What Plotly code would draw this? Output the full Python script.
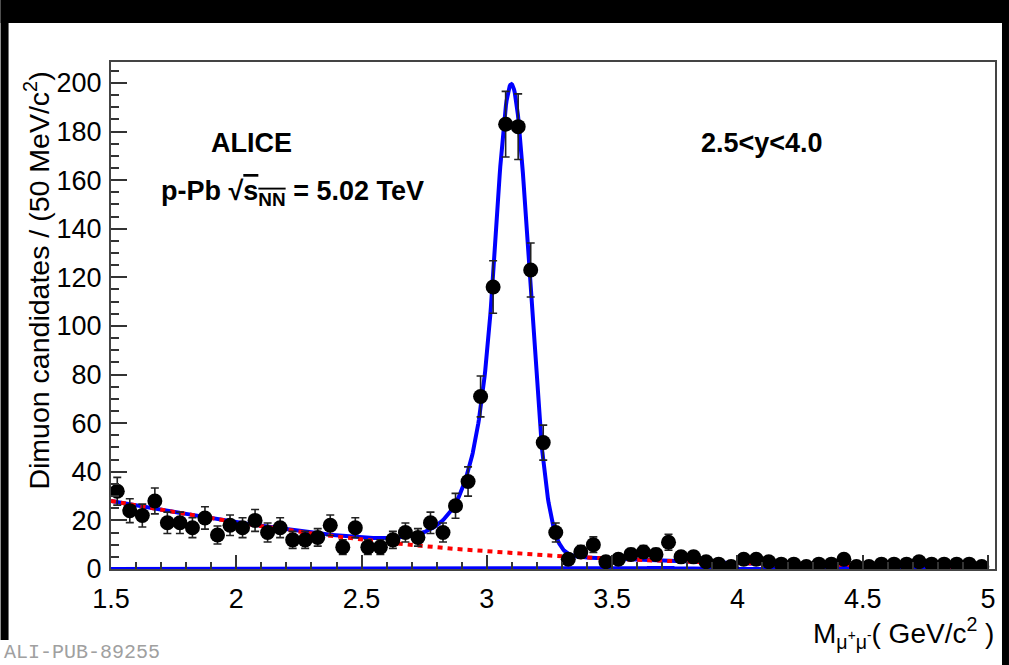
import numpy as np
import plotly.graph_objects as go

# ---- dimuon invariant-mass spectrum, 50 MeV/c^2 bins ----
mass_bins = [1.525, 1.575, 1.625, 1.675, 1.725, 1.775, 1.825, 1.875, 1.925, 1.975,
             2.025, 2.075, 2.125, 2.175, 2.225, 2.275, 2.325, 2.375, 2.425, 2.475,
             2.525, 2.575, 2.625, 2.675, 2.725, 2.775, 2.825, 2.875, 2.925, 2.975,
             3.025, 3.075, 3.125, 3.175, 3.225, 3.275, 3.325, 3.375, 3.425, 3.475,
             3.525, 3.575, 3.625, 3.675, 3.725, 3.775, 3.825, 3.875, 3.925, 3.975,
             4.025, 4.075, 4.125, 4.175, 4.225, 4.275, 4.325, 4.375, 4.425, 4.475,
             4.525, 4.575, 4.625, 4.675, 4.725, 4.775, 4.825, 4.875, 4.925, 4.975]
counts = [32, 24, 22, 28, 19, 19, 17, 21, 14, 18,
          17, 20, 15, 17, 12, 12, 13, 18, 9, 17,
          9, 9, 12, 15, 13, 19, 15, 26, 36, 71,
          116, 183, 182, 123, 52, 15, 4, 7, 10, 3,
          4, 6, 7, 6, 11, 5, 5, 3, 2, 1,
          4, 4, 3, 2, 2, 1, 2, 2, 4, 1,
          1, 2, 2, 2, 3, 2, 2, 2, 2, 1]
count_errors = [5.7, 4.9, 4.7, 5.3, 4.4, 4.4, 4.1, 4.6, 3.7, 4.2,
                4.1, 4.5, 3.9, 4.1, 3.5, 3.5, 3.6, 4.2, 3.0, 4.1,
                3.0, 3.0, 3.5, 3.9, 3.6, 4.4, 3.9, 5.1, 6.0, 8.4,
                10.8, 13.5, 13.5, 11.1, 7.2, 3.9, 2.0, 2.6, 3.2, 1.7,
                2.0, 2.4, 2.6, 2.4, 3.3, 2.2, 2.2, 1.7, 1.4, 1.0,
                2.0, 2.0, 1.7, 1.4, 1.4, 1.0, 1.4, 1.4, 2.0, 1.0,
                1.0, 1.4, 1.4, 1.4, 1.7, 1.4, 1.4, 1.4, 1.4, 1.0]

x_ticks = [1.5, 2, 2.5, 3, 3.5, 4, 4.5, 5]
x_tick_labels = ["1.5", "2", "2.5", "3", "3.5", "4", "4.5", "5"]
y_ticks = [0, 20, 40, 60, 80, 100, 120, 140, 160, 180, 200]
y_tick_labels = [str(v) for v in y_ticks]

# ---- fit model parameters ----
bkg_norm, bkg_slope, bkg_tau = 28.0, 0.8, 0.70          # pol1 x exponential
jpsi_yield, jpsi_mass, jpsi_sigma = 193.0, 3.098, 0.071  # Crystal Ball
jpsi_alpha, jpsi_n = 1.0, 6.0
psi2s_yield, psi2s_mass, psi2s_sigma = 0.5, 3.686, 0.075


def crystal_ball(m, norm, mu, sigma, alpha, n):
    t = (m - mu) / sigma
    a = (n / alpha) ** n * np.exp(-alpha ** 2 / 2)
    b = n / alpha - alpha
    tail = a * np.clip(b - t, 1e-6, None) ** (-n)
    return norm * np.where(t > -alpha, np.exp(-t ** 2 / 2), tail)


def background(m):
    t = m - 1.5
    return bkg_norm * (1 + bkg_slope * t) * np.exp(-t / bkg_tau)


m_curve = np.linspace(1.5, 5.0, 1400)
bkg_curve = background(m_curve)
psi2s_curve = crystal_ball(m_curve, psi2s_yield, psi2s_mass, psi2s_sigma, jpsi_alpha, jpsi_n)
total_curve = bkg_curve + crystal_ball(m_curve, jpsi_yield, jpsi_mass, jpsi_sigma,
                                       jpsi_alpha, jpsi_n) + psi2s_curve

# ---- page geometry (pixels) ----
W, H = 1009, 665
PL, PR, PT, PB = 110.5, 995.0, 62.0, 569.0
X_MIN, X_MAX = 1.5, 5.028
Y_MIN, Y_MAX = 0.0, 208.6


def px(xp):
    return (xp - PL) / (PR - PL)


def py(yp):
    return (PB - yp) / (PB - PT)


FONT = "Liberation Sans, Arial, Helvetica, sans-serif"

fig = go.Figure()

fig.add_trace(go.Scatter(x=m_curve, y=psi2s_curve, mode="lines",
                         line=dict(color="#0000ff", width=4), hoverinfo="skip"))
fig.add_trace(go.Scatter(x=m_curve, y=total_curve, mode="lines",
                         line=dict(color="#0000ff", width=4), hoverinfo="skip"))
fig.add_trace(go.Scatter(x=m_curve, y=bkg_curve, mode="lines",
                         line=dict(color="#ff0000", width=4, dash="5px,5px"),
                         hoverinfo="skip"))
fig.add_trace(go.Scatter(
    x=mass_bins, y=counts, mode="markers",
    marker=dict(color="black", size=15, symbol="circle"),
    error_y=dict(type="data", array=count_errors, visible=True,
                 color="#222222", thickness=1.6, width=4),
    cliponaxis=True,
))

axis_common = dict(
    showgrid=False, zeroline=False, showline=True, mirror=True,
    linecolor="#444444", linewidth=2, ticks="inside",
    tickcolor="#333333", tickwidth=1.5,
    tickfont=dict(family=FONT, size=27, color="black"),
)

fig.update_xaxes(range=[X_MIN, X_MAX], tickvals=x_ticks, ticktext=x_tick_labels,
                 ticklen=14, ticklabelstandoff=5,
                 minor=dict(ticks="inside", dtick=0.1, tick0=1.5, ticklen=7,
                            tickcolor="#333333", tickwidth=1.5),
                 **axis_common)
fig.update_yaxes(range=[Y_MIN, Y_MAX], tickvals=y_ticks, ticktext=y_tick_labels,
                 ticklen=16, ticklabelstandoff=2,
                 minor=dict(ticks="inside", dtick=5, tick0=0, ticklen=8,
                            tickcolor="#333333", tickwidth=1.5),
                 **axis_common)

annotations = [
    dict(text="<b>ALICE</b>", x=px(209), y=py(143), xanchor="left", yanchor="middle",
         font=dict(family=FONT, size=27, color="black")),
    dict(text="<b>p-Pb √<span style='text-decoration:overline'>s<sub>NN</sub></span> = 5.02 TeV</b>",
         x=px(159), y=py(193), xanchor="left", yanchor="middle",
         font=dict(family=FONT, size=27, color="black")),
    dict(text="<b>2.5<y<4.0</b>", x=px(699), y=py(143), xanchor="left", yanchor="middle",
         font=dict(family=FONT, size=27, color="black")),
    dict(text="Dimuon candidates / (50 MeV/c<sup>2</sup>)", x=px(36), y=py(281),
         xanchor="center", yanchor="middle", textangle=-90,
         font=dict(family=FONT, size=28.5, color="black")),
    dict(text="M<sub>μ<sup>+</sup>μ<sup>-</sup></sub>( GeV/c<sup>2</sup> )",
         x=px(996), y=py(633), xanchor="right", yanchor="middle",
         font=dict(family=FONT, size=28, color="black")),
    dict(text="ALI-PUB-89255", x=px(1), y=py(652), xanchor="left", yanchor="middle",
         font=dict(family="Liberation Mono, DejaVu Sans Mono, monospace", size=20,
                   color="#a0a0a0")),
]
for a in annotations:
    a.update(xref="paper", yref="paper", showarrow=False)

# black outer frame of the page
shapes = [
    dict(type="rect", x0=px(0), x1=px(W), y0=py(0), y1=py(23)),
    dict(type="rect", x0=px(0), x1=px(8), y0=py(0), y1=py(640)),
    dict(type="rect", x0=px(1002), x1=px(W), y0=py(0), y1=py(H)),
]
for s in shapes:
    s.update(xref="paper", yref="paper", fillcolor="black", line=dict(width=0),
             layer="above")

fig.update_layout(
    width=W, height=H, autosize=False,
    margin=dict(l=PL, r=W - PR, t=PT, b=H - PB, pad=0),
    paper_bgcolor="white", plot_bgcolor="white",
    showlegend=False,
    annotations=annotations, shapes=shapes,
)

fig.write_html("out.html")
